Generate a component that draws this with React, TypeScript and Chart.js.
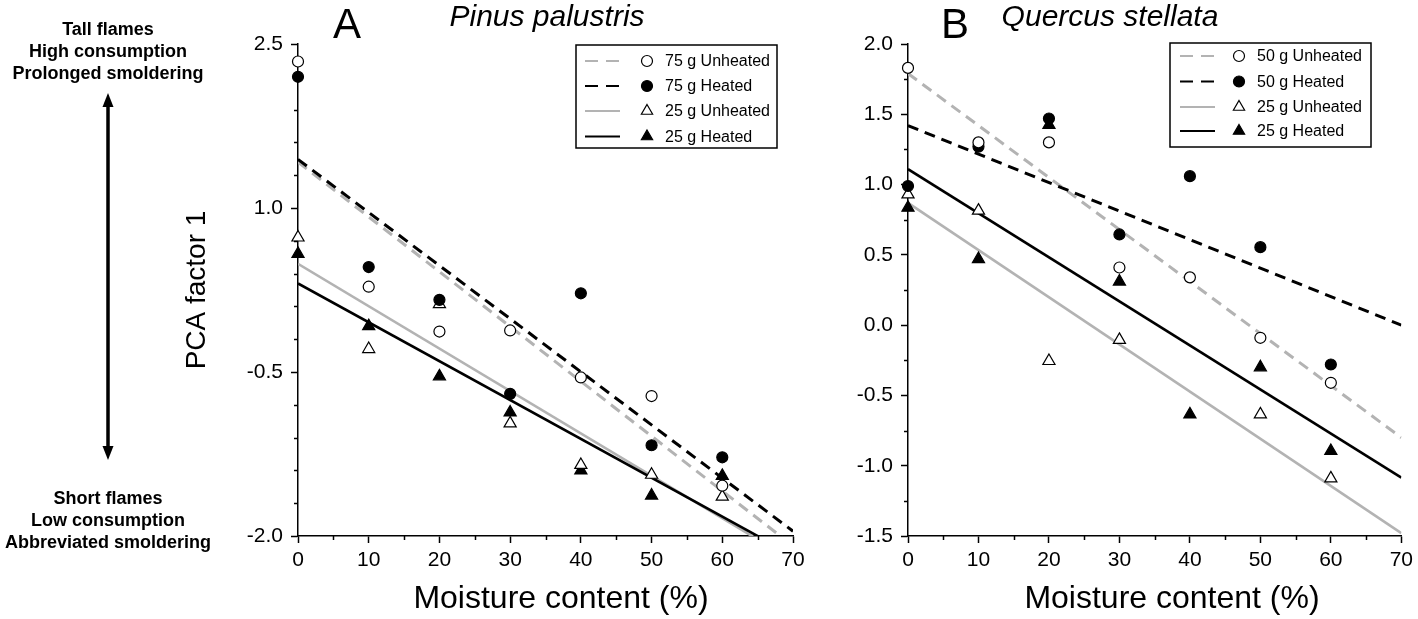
import React, { useEffect, useRef } from 'react';
import { Chart, registerables } from 'chart.js';

Chart.register(...registerables);

const FONT = '"Liberation Sans", Arial, Helvetica, sans-serif';
const GREY = '#b3b3b3';
const BLACK = '#000000';

// ---------- shared data ----------
const moisture = [0, 10, 20, 30, 40, 50, 60];
const fitX = [0, 70];
const xTicks = [0, 10, 20, 30, 40, 50, 60, 70];

// ---------- Panel A : Pinus palustris ----------
const a75Unheated = [2.34, 0.28, -0.13, -0.12, -0.55, -0.72, -1.54];
const a75Heated = [2.2, 0.46, 0.16, -0.7, 0.22, -1.17, -1.28];
const a25Unheated = [0.73, -0.29, 0.12, -0.97, -1.35, -1.44, -1.64];
const a25Heated = [0.58, -0.08, -0.54, -0.87, -1.4, -1.63, -1.45];
const a75UnheatedFit = [1.42, -2.09];
const a75HeatedFit = [1.445, -1.956];
const a25UnheatedFit = [0.49, -2.225];
const a25HeatedFit = [0.31, -2.178];
const aYTicks = [-2.0, -0.5, 1.0, 2.5];
const aLegend = ['75 g Unheated', '75 g Heated', '25 g Unheated', '25 g Heated'];

// ---------- Panel B : Quercus stellata ----------
const b50Unheated = [1.83, 1.3, 1.3, 0.41, 0.34, -0.09, -0.41];
const b50Heated = [0.99, 1.27, 1.47, 0.645, 1.06, 0.555, -0.28];
const b25Unheated = [0.93, 0.815, -0.255, -0.105, null, -0.635, -1.09];
const b25Heated = [0.835, 0.47, 1.425, 0.31, -0.635, -0.3, -0.895];
const b50UnheatedFit = [1.79, -0.8];
const b50HeatedFit = [1.42, 0.0];
const b25UnheatedFit = [0.87, -1.48];
const b25HeatedFit = [1.11, -1.085];
const bYTicks = [-1.5, -1.0, -0.5, 0.0, 0.5, 1.0, 1.5, 2.0];
const bLegend = ['50 g Unheated', '50 g Heated', '25 g Unheated', '25 g Heated'];

// ---------- left annotation ----------
const topNotes = ['Tall flames', 'High consumption', 'Prolonged smoldering'];
const bottomNotes = ['Short flames', 'Low consumption', 'Abbreviated smoldering'];

type Style = { color: string; dash: number[]; filled: boolean; point: 'circle' | 'triangle' };
const seriesStyles: Style[] = [
  { color: GREY, dash: [11, 7], filled: false, point: 'circle' },
  { color: BLACK, dash: [11, 7], filled: true, point: 'circle' },
  { color: GREY, dash: [], filled: false, point: 'triangle' },
  { color: BLACK, dash: [], filled: true, point: 'triangle' },
];

function drawMarker(ctx: CanvasRenderingContext2D, st: Style, x: number, y: number) {
  ctx.save();
  ctx.setLineDash([]);
  ctx.lineWidth = 1.2;
  ctx.strokeStyle = '#000';
  ctx.fillStyle = st.filled ? '#000' : '#fff';
  ctx.beginPath();
  if (st.point === 'circle') {
    ctx.arc(x, y, 5.5, 0, Math.PI * 2);
  } else {
    const r = 6.5;
    ctx.moveTo(x, y - r);
    ctx.lineTo(x + r * 0.866, y + r * 0.5);
    ctx.lineTo(x - r * 0.866, y + r * 0.5);
    ctx.closePath();
  }
  ctx.fill();
  ctx.stroke();
  ctx.restore();
}

const decoPlugin = {
  id: 'deco',
  afterDraw(chart: any, _args: any, o: any) {
    const ctx: CanvasRenderingContext2D = chart.ctx;
    const xs = chart.scales.x;
    const ys = chart.scales.y;
    const area = chart.chartArea;
    ctx.save();
    // minor ticks
    ctx.strokeStyle = '#000';
    ctx.lineWidth = 1.5;
    ctx.setLineDash([]);
    const nx = Math.round((xs.max - xs.min) / o.minorX);
    for (let i = 0; i <= nx; i++) {
      if (i % o.ratioX === 0) continue;
      const px = Math.round(xs.getPixelForValue(xs.min + i * o.minorX)) + 0.5;
      ctx.beginPath();
      ctx.moveTo(px, area.bottom);
      ctx.lineTo(px, area.bottom + 4);
      ctx.stroke();
    }
    const ny = Math.round((ys.max - ys.min) / o.minorY);
    for (let i = 0; i <= ny; i++) {
      if (i % o.ratioY === 0) continue;
      const py = Math.round(ys.getPixelForValue(ys.min + i * o.minorY)) + 0.5;
      ctx.beginPath();
      ctx.moveTo(area.left, py);
      ctx.lineTo(area.left - 4, py);
      ctx.stroke();
    }

    // panel letter + species
    ctx.fillStyle = '#000';
    ctx.textAlign = 'center';
    ctx.textBaseline = 'alphabetic';
    ctx.font = `42px ${FONT}`;
    ctx.fillText(o.letter, o.letterX, 38);
    ctx.font = `italic 30px ${FONT}`;
    ctx.fillText(o.species, o.speciesX, 26);

    // x title
    ctx.font = `32px ${FONT}`;
    ctx.fillText('Moisture content (%)', o.xTitleX, 608);

    // legend
    const L = o.legend;
    ctx.fillStyle = '#fff';
    ctx.fillRect(L.x0, L.y0, L.x1 - L.x0, L.y1 - L.y0);
    ctx.strokeStyle = '#000';
    ctx.lineWidth = 1.5;
    ctx.strokeRect(L.x0, L.y0, L.x1 - L.x0, L.y1 - L.y0);
    ctx.font = `16px ${FONT}`;
    ctx.textAlign = 'left';
    ctx.textBaseline = 'middle';
    L.labels.forEach((lab: string, i: number) => {
      const st = seriesStyles[i];
      const y = L.rows[i];
      ctx.save();
      ctx.strokeStyle = st.color;
      ctx.lineWidth = 2;
      ctx.setLineDash(st.dash.length ? [13, 8] : []);
      ctx.beginPath();
      ctx.moveTo(L.lineX0, y);
      ctx.lineTo(L.lineX1, y);
      ctx.stroke();
      ctx.restore();
      drawMarker(ctx, st, L.markX, y);
      ctx.fillStyle = '#000';
      ctx.fillText(lab, L.textX, y + 1);
    });

    // left annotation
    if (o.annotate) {
      ctx.font = `bold 18px ${FONT}`;
      ctx.textAlign = 'center';
      ctx.textBaseline = 'middle';
      ctx.fillStyle = '#000';
      topNotes.forEach((t, i) => ctx.fillText(t, 108, 30 + i * 22));
      bottomNotes.forEach((t, i) => ctx.fillText(t, 108, 499 + i * 22));
      const ax = 108;
      const top = 93;
      const bot = 460;
      ctx.strokeStyle = '#000';
      ctx.lineWidth = 3.5;
      ctx.beginPath();
      ctx.moveTo(ax, top + 10);
      ctx.lineTo(ax, bot - 10);
      ctx.stroke();
      ctx.beginPath();
      ctx.moveTo(ax, top);
      ctx.lineTo(ax + 5.5, top + 14);
      ctx.lineTo(ax - 5.5, top + 14);
      ctx.closePath();
      ctx.fill();
      ctx.beginPath();
      ctx.moveTo(ax, bot);
      ctx.lineTo(ax + 5.5, bot - 14);
      ctx.lineTo(ax - 5.5, bot - 14);
      ctx.closePath();
      ctx.fill();
    }
    ctx.restore();
  },
};

function buildDatasets(points: (number | null)[][], fits: number[][], labels: string[]) {
  const markers = points.map((vals, k) => {
    const st = seriesStyles[k];
    return {
      label: labels[k],
      data: moisture
        .map((x, i) => ({ x, y: vals[i] }))
        .filter((d) => d.y !== null),
      showLine: false,
      pointStyle: st.point,
      pointRadius: st.point === 'circle' ? 5.5 : 7,
      pointBackgroundColor: st.filled ? '#000' : '#fff',
      pointBorderColor: '#000',
      pointBorderWidth: 1.2,
      clip: false as any,
    };
  });
  const lineOrder = [1, 3, 0, 2]; // black lines above grey lines
  const lines = lineOrder.map((k) => {
    const st = seriesStyles[k];
    return {
      label: labels[k] + ' fit',
      data: fitX.map((x, i) => ({ x, y: fits[k][i] })),
      showLine: true,
      pointRadius: 0,
      borderColor: st.color,
      borderWidth: st.dash.length ? 3 : 2.6,
      borderDash: st.dash,
      fill: false,
      clip: 0,
    };
  });
  return [...markers, ...lines];
}

function makeConfig(p: any): any {
  return {
    type: 'scatter',
    data: { datasets: buildDatasets(p.points, p.fits, p.labels) },
    plugins: [decoPlugin],
    options: {
      responsive: false,
      animation: false,
      devicePixelRatio: 1,
      events: [],
      layout: { padding: { top: 44, right: p.padRight, bottom: 0, left: 0 } },
      plugins: {
        legend: { display: false },
        tooltip: { enabled: false },
        deco: p.deco,
      },
      scales: {
        x: {
          type: 'linear',
          min: 0,
          max: 70,
          afterBuildTicks: (s: any) => {
            s.ticks = xTicks.map((v) => ({ value: v }));
          },
          afterFit: (s: any) => {
            s.height = 83;
          },
          border: { display: true, color: '#000', width: 1.5 },
          grid: { drawOnChartArea: false, drawTicks: true, tickLength: 7, tickColor: '#000', tickWidth: 1.5 },
          ticks: {
            color: '#000',
            padding: 5,
            maxRotation: 0,
            font: { family: FONT, size: 21 },
            callback: (v: any) => String(v),
          },
        },
        y: {
          type: 'linear',
          min: p.yMin,
          max: p.yMax,
          afterBuildTicks: (s: any) => {
            s.ticks = p.yTicks.map((v: number) => ({ value: v }));
          },
          afterFit: (s: any) => {
            s.width = p.yWidth;
          },
          border: { display: true, color: '#000', width: 1.5 },
          grid: { drawOnChartArea: false, drawTicks: true, tickLength: 7, tickColor: '#000', tickWidth: 1.5 },
          title: p.yTitle
            ? {
                display: true,
                text: 'PCA factor 1',
                color: '#000',
                font: { family: FONT, size: 28 },
                padding: { top: 180, bottom: 0 },
              }
            : { display: false },
          ticks: {
            color: '#000',
            padding: 8,
            font: { family: FONT, size: 21 },
            callback: (v: any) => Number(v).toFixed(1),
          },
        },
      },
    },
  };
}

const configA = () =>
  makeConfig({
    points: [a75Unheated, a75Heated, a25Unheated, a25Heated],
    fits: [a75UnheatedFit, a75HeatedFit, a25UnheatedFit, a25HeatedFit],
    labels: aLegend,
    yMin: -2.0,
    yMax: 2.5,
    yTicks: aYTicks,
    yWidth: 298,
    padRight: 47,
    yTitle: true,
    deco: {
      minorX: 5,
      ratioX: 2,
      minorY: 0.3,
      ratioY: 5,
      letter: 'A',
      letterX: 347,
      species: 'Pinus palustris',
      speciesX: 547,
      xTitleX: 561,
      annotate: true,
      legend: {
        x0: 576, y0: 45, x1: 777, y1: 148,
        rows: [61, 86, 111, 136.5],
        lineX0: 585, lineX1: 620, markX: 647, textX: 665,
        labels: aLegend,
      },
    },
  });

const configB = () =>
  makeConfig({
    points: [b50Unheated, b50Heated, b25Unheated, b25Heated],
    fits: [b50UnheatedFit, b50HeatedFit, b25UnheatedFit, b25HeatedFit],
    labels: bLegend,
    yMin: -1.5,
    yMax: 2.0,
    yTicks: bYTicks,
    yWidth: 68,
    padRight: 15,
    yTitle: false,
    deco: {
      minorX: 5,
      ratioX: 2,
      minorY: 0.25,
      ratioY: 2,
      letter: 'B',
      letterX: 115,
      species: 'Quercus stellata',
      speciesX: 270,
      xTitleX: 332,
      annotate: false,
      legend: {
        x0: 330, y0: 43, x1: 531, y1: 147,
        rows: [56, 81.5, 107, 131],
        lineX0: 340, lineX1: 375, markX: 399, textX: 417,
        labels: bLegend,
      },
    },
  });

export default function App() {
  const refA = useRef<HTMLCanvasElement>(null);
  const refB = useRef<HTMLCanvasElement>(null);
  useEffect(() => {
    document.body.style.margin = '0';
    const a = new Chart(refA.current as HTMLCanvasElement, configA());
    const b = new Chart(refB.current as HTMLCanvasElement, configB());
    return () => {
      a.destroy();
      b.destroy();
    };
  }, []);
  return (
    <div style={{ position: 'absolute', left: 0, top: 0, width: 1418, height: 619, background: '#fff' }}>
      <canvas
        ref={refA}
        width={840}
        height={619}
        style={{ position: 'absolute', left: 0, top: 0, width: 840, height: 619 }}
      />
      <canvas
        ref={refB}
        width={578}
        height={619}
        style={{ position: 'absolute', left: 840, top: 0, width: 578, height: 619 }}
      />
    </div>
  );
}
